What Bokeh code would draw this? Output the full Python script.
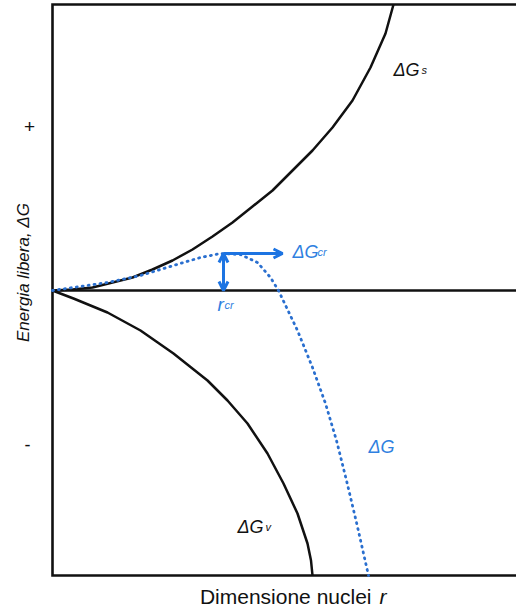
from bokeh.plotting import figure
from bokeh.models import Label, Arrow, OpenHead, Range1d
from bokeh.embed import file_html
from bokeh.resources import INLINE

# ---- data (r = nucleus size, G = free energy, arbitrary units)
r_surface = [0.0, 2.0, 4.0, 6.0, 8.0, 10.0, 12.0, 14.0, 16.0, 18.0, 20.0, 22.0, 24.0, 26.0, 28.0, 30.0, 31.8, 33.3, 34.1]
g_surface = [0.0, 0.1, 0.3, 0.8, 1.3, 2.1, 3.0, 4.1, 5.4, 6.8, 8.4, 10.0, 12.0, 14.0, 16.3, 19.0, 22.3, 25.7, 28.6]

r_volume = [0.0, 2.1, 5.5, 8.8, 12.1, 15.5, 17.5, 19.5, 21.5, 23.1, 24.5, 25.5, 25.85, 26.0]
g_volume = [0.0, -0.8, -2.2, -4.0, -6.3, -9.0, -11.0, -13.3, -16.3, -19.3, -22.3, -25.3, -27.0, -28.5]

r_total = [0.0, 5.5, 8.8, 12.1, 14.8, 16.8, 18.8, 20.5, 21.8, 22.6, 23.5, 24.5, 26.0, 27.3, 28.4, 29.4, 30.4, 31.6]
g_total = [0.0, 0.8, 1.5, 2.5, 3.3, 3.7, 3.6, 2.8, 1.3, 0.0, -1.9, -4.0, -7.7, -11.3, -15.0, -19.0, -23.2, -28.5]

r_cr = 17.1
g_cr = 3.7
arrow_len = 5.9

# plotting box (the drawn frame) and the whole canvas in data units
box_x = (0.0, 46.4)
box_y = (-28.5, 28.6)
canvas_x = (-5.2, 46.4)
canvas_y = (-31.9, 29.0)

BLUE = "#1d74e2"
BLUE_TXT = "#2f80e0"
DOT = "#2a6fcf"
BLACK = "#111111"
FONT = "Liberation Sans"

p = figure(width=516, height=609,
           x_range=Range1d(*canvas_x), y_range=Range1d(*canvas_y),
           output_backend="svg", toolbar_location=None,
           x_axis_location=None, y_axis_location=None,
           min_border=0)
p.outline_line_color = None
p.xgrid.visible = False
p.ygrid.visible = False
p.background_fill_color = "white"
p.border_fill_color = "white"

# frame (top, left, bottom) and zero line
p.line([box_x[1], box_x[0], box_x[0], box_x[1]], [box_y[1], box_y[1], box_y[0], box_y[0]],
       line_color=BLACK, line_width=2.6, line_join="miter")
p.line([box_x[0], box_x[1]], [0, 0], line_color=BLACK, line_width=2.6)

p.line(r_surface, g_surface, line_color=BLACK, line_width=2.5, line_join="round")
p.line(r_volume, g_volume, line_color=BLACK, line_width=2.5, line_join="round")
p.line(r_total, g_total, line_color=DOT, line_width=2.8, line_dash="1 5", line_cap="round")

p.add_layout(Arrow(x_start=r_cr, y_start=g_cr, x_end=r_cr, y_end=0,
                   line_color=BLUE, line_width=3,
                   start=OpenHead(size=9, line_color=BLUE, line_width=3),
                   end=OpenHead(size=9, line_color=BLUE, line_width=3)))
p.add_layout(Arrow(x_start=r_cr, y_start=g_cr, x_end=r_cr + arrow_len, y_end=g_cr,
                   line_color=BLUE, line_width=3, start=None,
                   end=OpenHead(size=9, line_color=BLUE, line_width=3)))

SHIFT = 0.7  # baseline correction (data units)


def lab(x, y, text, size, color=BLACK, style="italic", align="left", baseline="alphabetic", angle=0.0):
    if baseline == "alphabetic":
        if angle == 0.0:
            y = y + SHIFT
        else:
            x = x - SHIFT
    p.add_layout(Label(x=x, y=y, text=text, text_font=FONT, text_font_size=f"{size}px",
                       text_font_style=style, text_color=color, text_align=align,
                       text_baseline=baseline, angle=angle))


# curve labels
lab(34.1, 21.4, "ΔG", 18)
lab(36.9, 21.4, "s", 11)
lab(18.5, -24.3, "ΔG", 18)
lab(21.3, -24.3, "v", 11)
lab(31.6, -16.3, "ΔG", 18, color=BLUE_TXT)
lab(24.0, 3.2, "ΔG", 18, color=BLUE_TXT)
lab(26.5, 3.2, "cr", 11, color=BLUE_TXT)
lab(16.5, -2.1, "r", 19, color=BLUE_TXT)
lab(17.2, -2.1, "cr", 11, color=BLUE_TXT)

# axis texts
lab(31.9, -31.3, "Dimensione nuclei", 21, style="normal", align="right")
lab(32.7, -31.3, "r", 21)
lab(-2.2, 1.8, "Energia libera, ΔG", 17, align="center", angle=1.5708)
lab(-2.3, 16.4, "+", 19, style="normal", align="center", baseline="middle")
lab(-2.5, -15.4, "-", 18, style="normal", align="center", baseline="middle")

open("out.html", "w").write(file_html(p, INLINE))
